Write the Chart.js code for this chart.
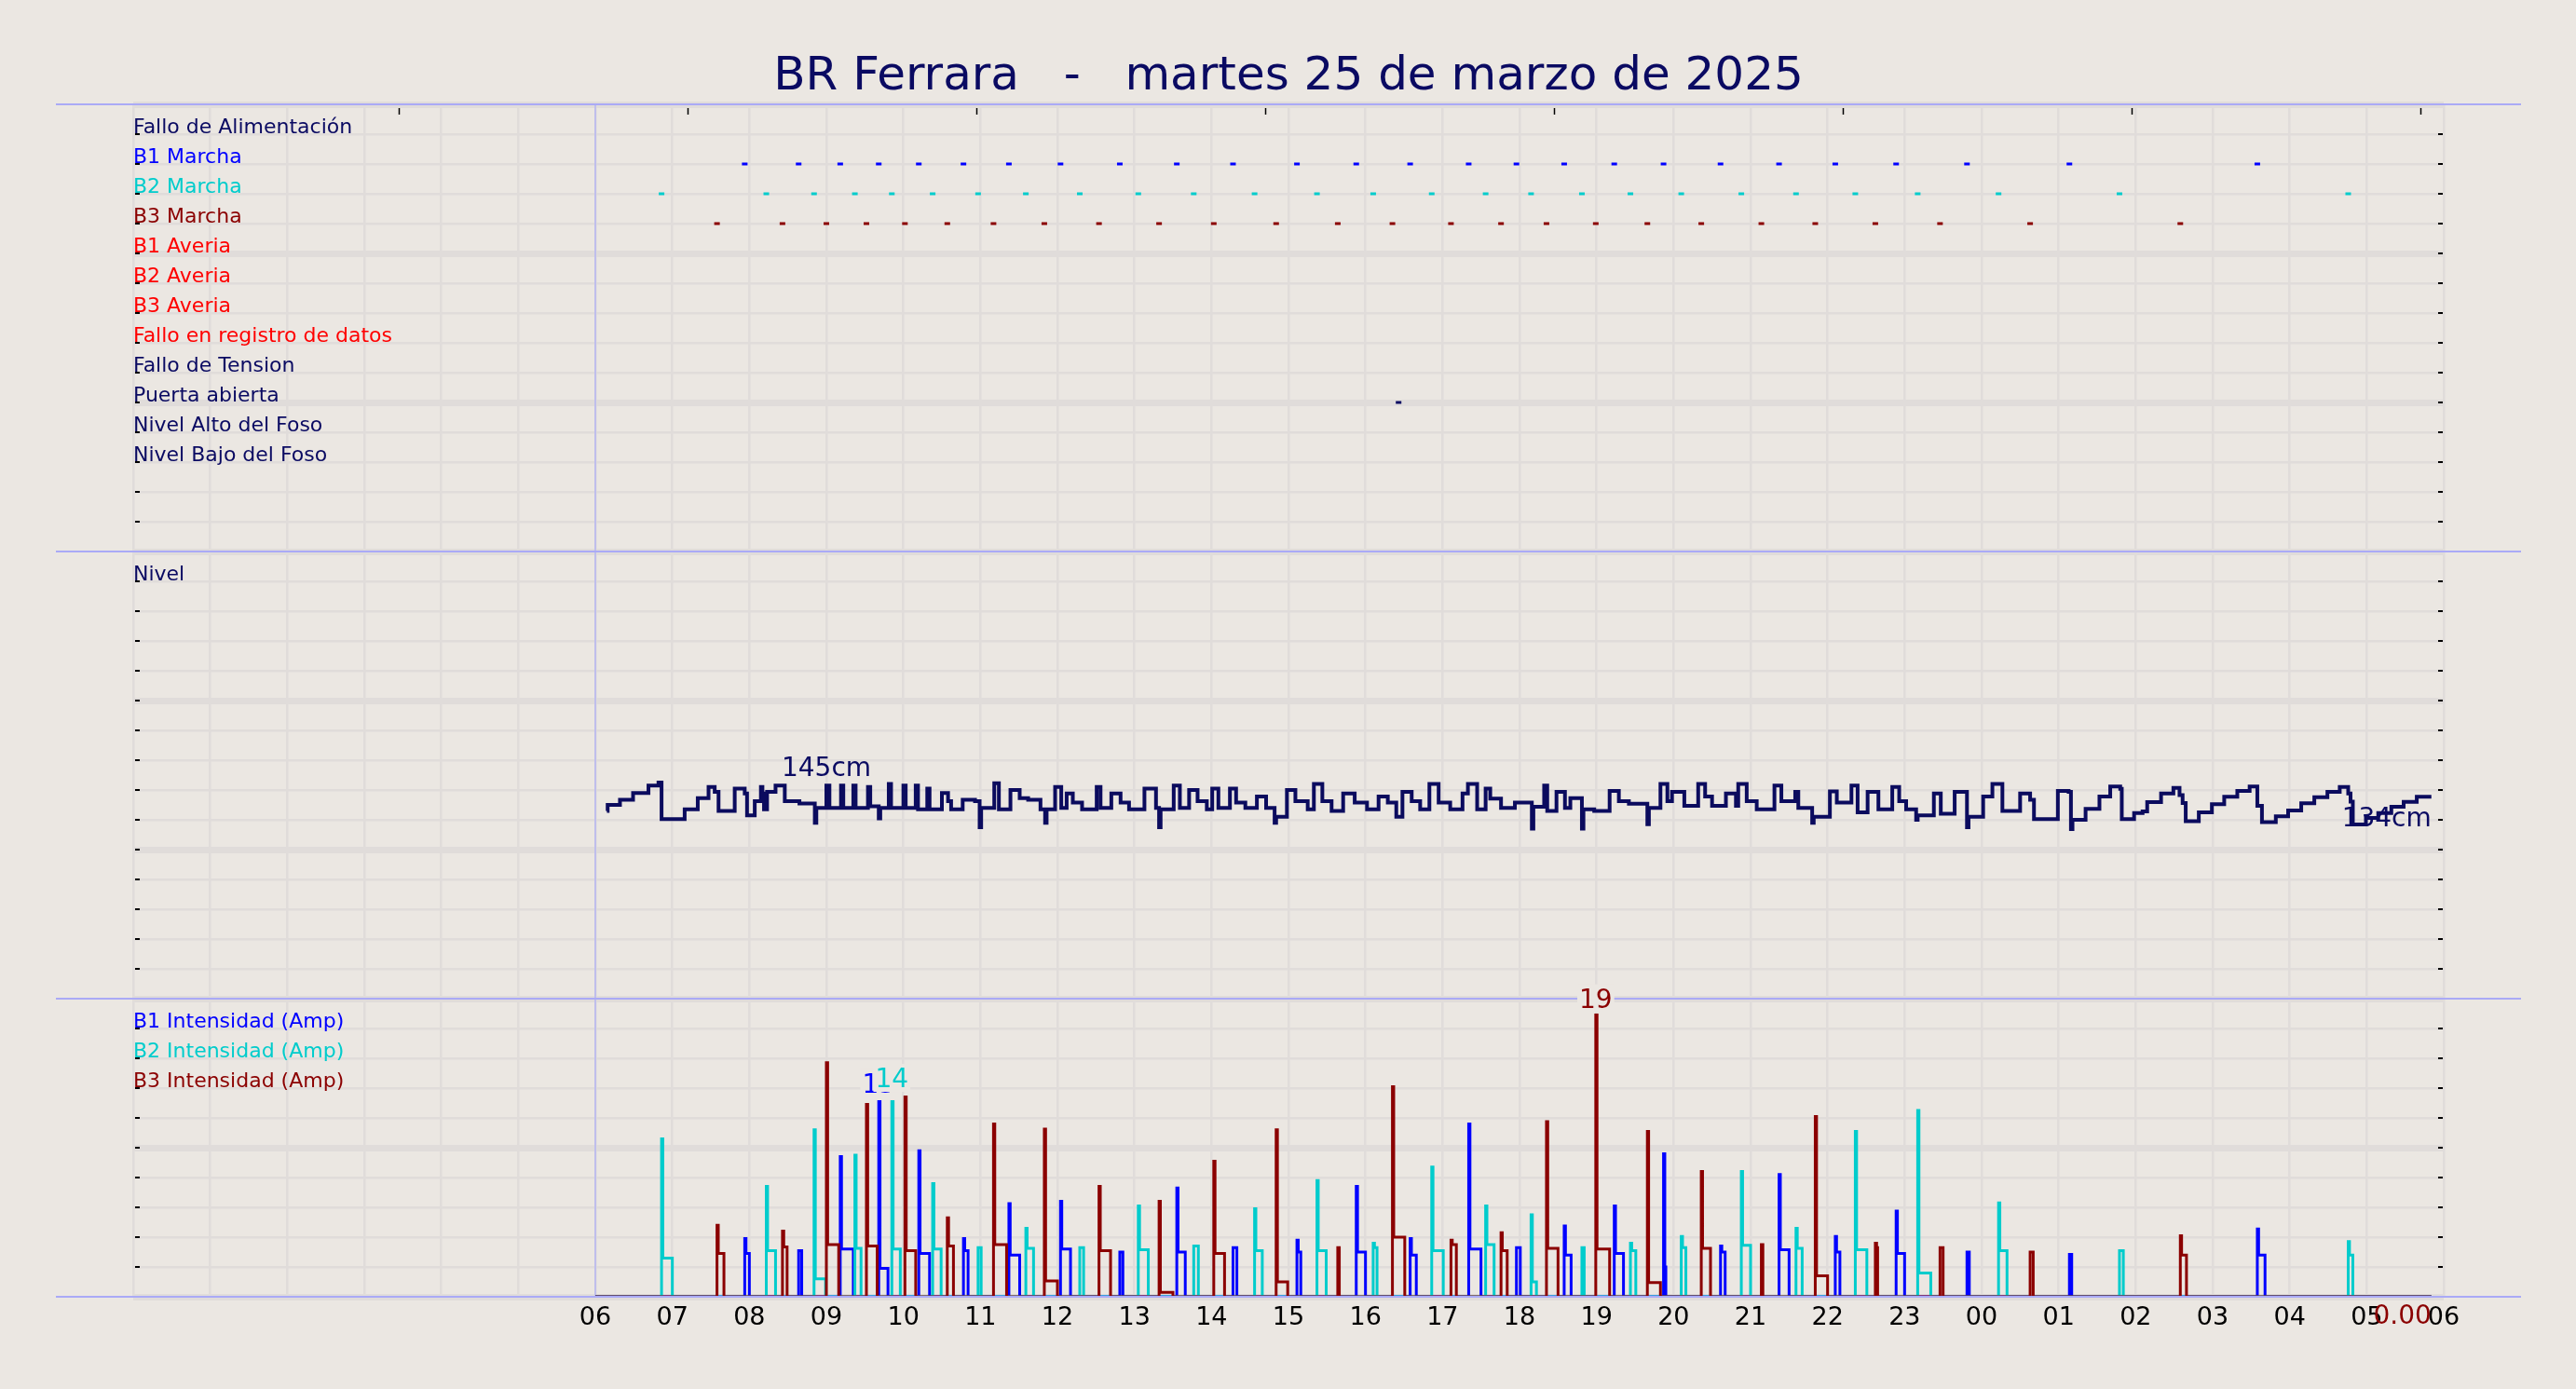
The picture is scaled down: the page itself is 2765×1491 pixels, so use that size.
<!DOCTYPE html>
<html>
<head>
<meta charset="utf-8">
<script src="https://cdn.jsdelivr.net/npm/chart.js@4.4.1/dist/chart.umd.min.js"></script>
<style>
  body { margin: 0; background: #ebe7e2; }
  canvas { display: block; }
</style>
</head>
<body>
<canvas id="grafico" width="2765" height="1491"></canvas>
<script>
const titulo = "BR Ferrara   -   martes 25 de marzo de 2025";

// filas del panel de estados (de arriba a abajo)
const etiquetasEstado = ["Fallo de Alimentación", "B1 Marcha", "B2 Marcha", "B3 Marcha", "B1 Averia", "B2 Averia",
  "B3 Averia", "Fallo en registro de datos", "Fallo de Tension", "Puerta abierta", "Nivel Alto del Foso", "Nivel Bajo del Foso"];
const etiquetasIntensidad = ["B1 Intensidad (Amp)", "B2 Intensidad (Amp)", "B3 Intensidad (Amp)"];

// marcas del eje superior (horas desde las 00:00)
const ticksSuperiores = [3.447, 7.197, 10.947, 14.697, 18.447, 22.197, 25.947, 29.697];

// arranques de bombas: hora de inicio, pico (A), meseta (A), hora de parada
const b1Inicio = [7.94, 8.64, 9.18, 9.68, 10.20, 10.78, 11.37, 12.04, 12.81, 13.55,
  14.28, 15.11, 15.88, 16.58, 17.34, 17.96, 18.58, 19.23, 19.87, 20.61,
  21.37, 22.10, 22.89, 23.81, 25.14, 27.58];
const b1Pico = [3.9, 3.1, 9.4, 13.1, 9.8, 3.9, 6.25, 6.4, 3.0, 7.3,
  3.3, 3.8, 7.4, 3.9, 11.6, 3.3, 4.75, 6.1, 9.6, 3.4,
  8.2, 4.05, 5.75, 3.0, 2.85, 4.55];
const b1Meseta = [2.9, 3.1, 3.2, 1.9, 2.9, 3.1, 2.8, 3.2, 3.0, 3.0,
  3.3, 3.0, 3.0, 2.8, 3.2, 3.3, 2.8, 2.9, 2.0, 3.0,
  3.15, 3.0, 2.9, 3.0, 2.85, 2.8];
const b1Fin = [8.00, 8.68, 9.35, 9.80, 10.34, 10.84, 11.51, 12.17, 12.85, 13.66,
  14.33, 15.16, 16.00, 16.66, 17.50, 18.01, 18.67, 19.35, 19.90, 20.67,
  21.50, 22.16, 23.00, 23.84, 25.17, 27.68];

const b2Inicio = [6.86, 8.22, 8.84, 9.37, 9.85, 10.38, 10.97, 11.59, 12.29, 13.05,
  13.77, 14.56, 15.37, 16.10, 16.86, 17.56, 18.15, 18.81, 19.44, 20.10,
  20.88, 21.59, 22.36, 23.17, 24.22, 25.79, 28.76];
const b2Pico = [10.6, 7.4, 11.2, 9.5, 13.1, 7.6, 3.3, 4.6, 3.3, 6.1,
  3.4, 5.9, 7.8, 3.6, 8.7, 6.1, 5.5, 3.3, 3.6, 4.05,
  8.4, 4.6, 11.1, 12.5, 6.3, 3.1, 3.7];
const b2Meseta = [2.6, 3.1, 1.2, 3.25, 3.2, 3.2, 3.3, 3.25, 3.3, 3.15,
  3.4, 3.1, 3.1, 3.3, 3.1, 3.5, 1.0, 3.3, 3.1, 3.3,
  3.45, 3.25, 3.15, 1.6, 3.1, 3.1, 2.8];
const b2Fin = [7.00, 8.34, 8.99, 9.45, 9.96, 10.49, 11.01, 11.69, 12.34, 13.18,
  13.83, 14.66, 15.49, 16.15, 17.01, 17.67, 18.22, 18.84, 19.51, 20.16,
  21.00, 21.67, 22.51, 23.34, 24.33, 25.84, 28.82];

const b3Inicio = [7.58, 8.43, 9.00, 9.52, 10.02, 10.57, 11.17, 11.83, 12.54, 13.32,
  14.03, 14.84, 15.64, 16.35, 17.11, 17.76, 18.35, 18.99, 19.66, 20.36,
  21.14, 21.84, 22.62, 23.46, 24.63, 26.58];
const b3Pico = [4.8, 4.4, 15.7, 12.9, 13.4, 5.3, 11.6, 11.25, 7.4, 6.4,
  9.1, 11.2, 3.3, 14.1, 3.8, 4.3, 11.75, 18.9, 11.1, 8.4,
  3.5, 12.1, 3.6, 3.3, 3.0, 4.1];
const b3Meseta = [2.9, 3.35, 3.5, 3.4, 3.1, 3.4, 3.5, 1.06, 3.1, 0.3,
  2.9, 1.0, 3.3, 4.0, 3.5, 3.1, 3.25, 3.2, 0.96, 3.25,
  3.5, 1.4, 3.3, 3.3, 3.0, 2.8];
const b3Fin = [7.67, 8.49, 9.16, 9.66, 10.16, 10.65, 11.34, 12.00, 12.69, 13.50,
  14.17, 14.99, 15.66, 16.51, 17.18, 17.84, 18.50, 19.17, 19.83, 20.48,
  21.16, 22.00, 22.65, 23.50, 24.67, 26.66];

const puertaAbierta = [16.43];

// nivel del foso (cm), escalonado
const nivelHora = [6.15, 6.16, 6.32, 6.49, 6.69, 6.82, 6.86, 7.16, 7.33, 7.47,
  7.55, 7.60, 7.81, 7.94, 7.97, 8.07, 8.15, 8.17, 8.19, 8.23,
  8.34, 8.46, 8.65, 8.85, 8.87, 9.00, 9.04, 9.19, 9.22, 9.35,
  9.38, 9.54, 9.57, 9.68, 9.70, 9.81, 9.84, 10.00, 10.03, 10.16,
  10.19, 10.31, 10.34, 10.50, 10.58, 10.62, 10.77, 10.93, 10.99, 11.01,
  11.18, 11.24, 11.39, 11.51, 11.62, 11.78, 11.84, 11.86, 11.97, 12.05,
  12.12, 12.20, 12.32, 12.51, 12.56, 12.70, 12.82, 12.93, 13.13, 13.28,
  13.32, 13.34, 13.51, 13.59, 13.71, 13.82, 13.94, 14.01, 14.09, 14.24,
  14.32, 14.44, 14.59, 14.71, 14.82, 14.84, 14.98, 15.09, 15.25, 15.33,
  15.44, 15.56, 15.71, 15.86, 16.02, 16.17, 16.29, 16.40, 16.48, 16.60,
  16.71, 16.83, 16.95, 17.10, 17.26, 17.33, 17.45, 17.56, 17.62, 17.76,
  17.94, 18.16, 18.18, 18.32, 18.36, 18.48, 18.59, 18.66, 18.81, 18.83,
  18.97, 19.17, 19.29, 19.42, 19.66, 19.68, 19.83, 19.92, 19.98, 20.14,
  20.32, 20.41, 20.50, 20.68, 20.81, 20.84, 20.95, 21.08, 21.31, 21.40,
  21.58, 21.62, 21.80, 21.82, 22.03, 22.12, 22.31, 22.39, 22.52, 22.66,
  22.84, 22.93, 23.02, 23.15, 23.17, 23.38, 23.47, 23.65, 23.81, 23.83,
  24.02, 24.14, 24.27, 24.50, 24.63, 24.68, 24.99, 25.13, 25.16, 25.18,
  25.35, 25.53, 25.67, 25.80, 25.82, 25.98, 26.09, 26.15, 26.33, 26.49,
  26.57, 26.61, 26.65, 26.82, 26.99, 27.15, 27.32, 27.48, 27.58, 27.64,
  27.82, 27.98, 28.15, 28.32, 28.49, 28.65, 28.76, 28.79, 28.82, 28.99,
  29.15, 29.32, 29.48, 29.65, 29.84];
const nivelCm = [126, 130, 133.5, 138, 143, 145, 120.5, 127, 134.5, 142,
  138.7, 126, 141, 137.7, 123, 132.5, 142, 137.7, 127, 138.7,
  143, 132.5, 131, 118, 128, 143, 128, 143, 128, 143,
  128, 142, 129, 121, 128, 144, 128, 143, 128, 143,
  127, 141, 127, 138, 132.5, 127, 133.5, 132.5, 115, 128,
  144.5, 127, 140, 134.6, 133.5, 127, 118, 127, 142, 128,
  137.7, 131.5, 127, 142, 128, 137.7, 131.5, 127, 141, 128,
  115, 127, 143, 128, 140, 132.5, 127, 141, 128, 141,
  131.5, 128, 135.6, 128, 118, 122, 140, 132.5, 127, 144,
  132.5, 126, 137.7, 131.5, 127, 135.6, 131.5, 122, 138.7, 132.5,
  127, 144, 131.5, 127, 137.7, 144, 127, 141, 134.2, 128,
  131.5, 114, 128.7, 143, 126, 138.7, 128, 134.6, 114, 127,
  126, 139.4, 132.5, 130.8, 117, 128, 144, 132.5, 138.7, 129.4,
  144, 135.6, 129.4, 137.7, 129.4, 144, 132.5, 127, 143, 132.5,
  138.7, 128, 118, 122, 139, 131.5, 143, 125, 138.7, 127,
  142, 132.5, 127, 120, 123, 137.7, 124, 138.7, 115, 122,
  135.6, 144, 126, 137.7, 133.5, 120.4, 139.4, 138.7, 113.75, 120,
  127.3, 135.6, 142.3, 140.8, 120.4, 124.6, 125.6, 131.9, 137.7, 141.4,
  136.6, 131.3, 119.1, 125, 130.4, 135.4, 139.4, 142.4, 129.3, 118.4,
  122.4, 126.3, 131.1, 135.1, 138.8, 142.1, 137.7, 132.2, 116.9, 121.3,
  124.5, 128.8, 132.1, 135.4, 135.4];

const FONDO = "#ebe7e2";
const REJILLA = "#e0dcda";
const AZUL_OSCURO = "#0a0a62";
const B1C = "#0000ff", B2C = "#00cccc", B3C = "#8b0000", ROJO = "#ff0000";
const FUENTE = '"DejaVu Sans", sans-serif';
const coloresEstado = [AZUL_OSCURO, B1C, B2C, B3C, ROJO, ROJO, ROJO, ROJO, AZUL_OSCURO, AZUL_OSCURO, AZUL_OSCURO, AZUL_OSCURO];
const coloresIntensidad = [B1C, B2C, B3C];

function serieBomba(inicio, pico, meseta, fin) {
  const pts = [{ x: 6, y: 0 }];
  inicio.forEach((t, i) => {
    pts.push({ x: t, y: pico[i] });
    pts.push({ x: t + 1 / 60, y: meseta[i] });
    pts.push({ x: fin[i], y: 0 });
  });
  pts.push({ x: nivelHora[nivelHora.length - 1], y: 0 });
  return pts;
}

function marcas(horas, fila, color) {
  return {
    data: horas.map((h) => ({ x: h, y: fila })),
    yAxisID: "yTop",
    showLine: false,
    pointStyle: "line",
    pointRadius: 3,
    pointBorderWidth: 3,
    pointBorderColor: color,
    pointBackgroundColor: color,
  };
}

function lineaBomba(pts, color) {
  return {
    data: pts,
    yAxisID: "yBot",
    stepped: true,
    borderColor: color,
    borderWidth: 3,
    pointRadius: 0,
    fill: false,
  };
}

function etiqueta(ctx, texto, px, py, color, alinear, conFondo) {
  ctx.font = "28px " + FUENTE;
  ctx.textAlign = alinear;
  ctx.textBaseline = "alphabetic";
  if (conFondo) {
    const w = ctx.measureText(texto).width;
    const x0 = alinear === "center" ? px - w / 2 : alinear === "right" ? px - w : px;
    ctx.fillStyle = FONDO;
    ctx.fillRect(x0 - 2, py - 25, w + 4, 30);
  }
  ctx.fillStyle = color;
  ctx.fillText(texto, px, py);
}

const decoracion = {
  id: "decoracion",
  beforeDraw(chart) {
    const { ctx, width, height } = chart;
    ctx.save();
    ctx.fillStyle = FONDO;
    ctx.fillRect(0, 0, width, height);
    ctx.restore();
  },
  beforeDatasetsDraw(chart) {
    const { ctx, chartArea, scales } = chart;
    const x6 = scales.x.getPixelForValue(6);
    ctx.save();
    ctx.strokeStyle = "#b4b4f2";
    ctx.lineWidth = 1.5;
    ctx.beginPath();
    ctx.moveTo(x6, chartArea.top);
    ctx.lineTo(x6, chartArea.bottom);
    ctx.stroke();
    ctx.restore();
  },
  afterDatasetsDraw(chart) {
    const { ctx, chartArea, scales } = chart;
    const { x, yTop, yMid, yBot } = scales;
    ctx.save();
    // rayitas de los ejes y, por dentro
    ctx.strokeStyle = "#000";
    ctx.lineWidth = 2;
    [yTop, yMid, yBot].forEach((s) => {
      s.ticks.forEach((t) => {
        const py = Math.round(s.getPixelForValue(t.value));
        ctx.beginPath();
        ctx.moveTo(chartArea.left + 2, py);
        ctx.lineTo(chartArea.left + 7, py);
        ctx.moveTo(chartArea.right - 6, py);
        ctx.lineTo(chartArea.right - 1, py);
        ctx.stroke();
      });
    });
    // marcas del eje superior
    ctx.lineWidth = 1.5;
    ticksSuperiores.forEach((h) => {
      const px = Math.round(x.getPixelForValue(h)) + 0.5;
      ctx.beginPath();
      ctx.moveTo(px, chartArea.top + 4);
      ctx.lineTo(px, chartArea.top + 11);
      ctx.stroke();
    });
    // separadores de paneles
    ctx.strokeStyle = "#aaaaf6";
    ctx.lineWidth = 2;
    [yTop.top, yMid.top, yBot.top, yBot.bottom].forEach((py) => {
      ctx.beginPath();
      ctx.moveTo(chartArea.left - 83, py);
      ctx.lineTo(chartArea.right + 83, py);
      ctx.stroke();
    });
    // textos de valores
    const ultimaHora = nivelHora[nivelHora.length - 1];
    etiqueta(ctx, "145cm", x.getPixelForValue(9.0), yMid.getPixelForValue(145) - 7, AZUL_OSCURO, "center", false);
    etiqueta(ctx, "134cm", x.getPixelForValue(ultimaHora), yMid.getPixelForValue(134) + 29, AZUL_OSCURO, "right", false);
    etiqueta(ctx, "13", x.getPixelForValue(9.68), yBot.getPixelForValue(13.7), B1C, "center", true);
    etiqueta(ctx, "14", x.getPixelForValue(9.85), yBot.getPixelForValue(14.06), B2C, "center", true);
    etiqueta(ctx, "19", x.getPixelForValue(18.99), yBot.getPixelForValue(19.4), B3C, "center", true);
    etiqueta(ctx, "0.00", x.getPixelForValue(ultimaHora), yBot.getPixelForValue(0) + 29, B3C, "right", false);
    ctx.restore();
  },
};

const ejeY = (opc) => ({
  type: "linear",
  position: "left",
  stack: "paneles",
  stackWeight: opc.peso,
  min: opc.min,
  max: opc.max,
  afterFit: (s) => { s.width = 0; },
  border: { display: false },
  grid: {
    color: REJILLA,
    drawTicks: false,
    lineWidth: (c) => (c.tick && c.tick.value % (opc.paso * 5) === 0 ? 7 : 2.5),
  },
  ticks: {
    stepSize: opc.paso,
    autoSkip: false,
    mirror: true,
    padding: 0,
    labelOffset: -7,
    font: { family: FUENTE, size: 22 },
    color: opc.color,
    callback: opc.texto,
  },
});

new Chart(document.getElementById("grafico"), {
  type: "line",
  data: {
    datasets: [
      lineaBomba(serieBomba(b3Inicio, b3Pico, b3Meseta, b3Fin), B3C),
      lineaBomba(serieBomba(b2Inicio, b2Pico, b2Meseta, b2Fin), B2C),
      lineaBomba(serieBomba(b1Inicio, b1Pico, b1Meseta, b1Fin), B1C),
      {
        data: nivelHora.map((h, i) => ({ x: h, y: nivelCm[i] })),
        yAxisID: "yMid",
        stepped: true,
        borderColor: "#0b0b5e",
        borderWidth: 4,
        pointRadius: 0,
        fill: false,
      },
      marcas(b1Inicio, 13, B1C),
      marcas(b2Inicio, 12, B2C),
      marcas(b3Inicio, 11, B3C),
      marcas(puertaAbierta, 5, AZUL_OSCURO),
    ],
  },
  options: {
    responsive: false,
    animation: false,
    devicePixelRatio: 1,
    layout: { padding: { left: 143, right: 142, top: 0, bottom: 0 } },
    plugins: {
      legend: { display: false },
      tooltip: { enabled: false },
      title: {
        display: true,
        text: titulo,
        color: AZUL_OSCURO,
        font: { family: FUENTE, size: 50, weight: "normal", lineHeight: 1.16 },
        padding: { top: 54, bottom: 0 },
      },
    },
    scales: {
      x: {
        type: "linear",
        min: 0,
        max: 30,
        afterFit: (s) => { s.height = 99; },
        border: { display: false },
        grid: { color: REJILLA, lineWidth: 2.5, drawTicks: false },
        ticks: {
          stepSize: 1,
          autoSkip: false,
          maxRotation: 0,
          padding: 7,
          color: "#000",
          font: { family: FUENTE, size: 27 },
          callback: (v) => (v >= 6 ? String(v % 24).padStart(2, "0") : ""),
        },
      },
      yBot: ejeY({
        peso: 10, min: 0, max: 20, paso: 2,
        texto: (v) => (v >= 14 && v <= 18 ? etiquetasIntensidad[(18 - v) / 2] : ""),
        color: (c) => { const v = c.tick.value; return v >= 14 && v <= 18 ? coloresIntensidad[(18 - v) / 2] : "#000"; },
      }),
      yMid: ejeY({
        peso: 15, min: 0, max: 300, paso: 20,
        texto: (v) => (v === 280 ? "Nivel" : ""),
        color: AZUL_OSCURO,
      }),
      yTop: ejeY({
        peso: 15, min: 0, max: 15, paso: 1,
        texto: (v) => (v <= 14 && v >= 3 ? etiquetasEstado[14 - v] : ""),
        color: (c) => { const v = c.tick.value; return v <= 14 && v >= 3 ? coloresEstado[14 - v] : "#000"; },
      }),
    },
  },
  plugins: [decoracion],
});
</script>
</body>
</html>
